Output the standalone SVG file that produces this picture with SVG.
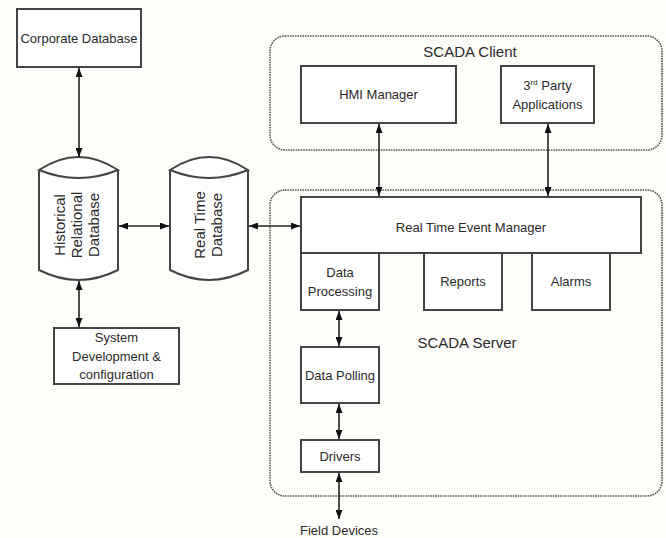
<svg xmlns="http://www.w3.org/2000/svg" width="666" height="538" viewBox="0 0 666 538">
<style>
text{font-family:"Liberation Sans",Arial,sans-serif;font-size:13px;fill:#2a2a2a;text-anchor:middle}
.t15{font-size:15px}
.box{fill:#fff;stroke:#444;stroke-width:2}
.grp{fill:none;stroke:#555;stroke-width:1.6;stroke-dasharray:1.6 0.9}
.cyl{fill:#fff;stroke:#444;stroke-width:2}
.con{fill:none;stroke:#222;stroke-width:1.6;marker-start:url(#ah);marker-end:url(#ah)}
</style>
<defs>
<marker id="ah" viewBox="0 0 10 10" refX="10" refY="5" markerWidth="9" markerHeight="7" orient="auto-start-reverse" markerUnits="userSpaceOnUse" preserveAspectRatio="none">
<path d="M0,0 L10,5 L0,10 Z" fill="#111"/>
</marker>
</defs>
<rect width="666" height="538" fill="#fdfdf9"/>

<g id="scada-client">
<rect class="grp" x="270" y="36" width="392" height="114" rx="15"/>
<text class="t15" x="470" y="57">SCADA Client</text>
</g>
<g id="scada-server">
<rect class="grp" x="270" y="190" width="392" height="306" rx="15"/>
<text class="t15" x="467" y="348">SCADA Server</text>
</g>

<g id="corporate-db">
<rect class="box" x="17" y="9" width="124" height="58"/>
<text x="79" y="43">Corporate Database</text>
</g>

<g id="historical-db">
<path class="cyl" d="M39,170 L39,270 Q78.5,290 118,270 L118,170"/>
<path class="cyl" d="M39,170 Q78.5,144 118,170 Q78.5,186 39,170 Z"/>
<text class="t15" transform="translate(65,225) rotate(-90)">Historical</text>
<text class="t15" transform="translate(82,225) rotate(-90)">Relational</text>
<text class="t15" transform="translate(98.5,225) rotate(-90)">Database</text>
</g>

<g id="realtime-db">
<path class="cyl" d="M170,170 L170,270 Q209,290 248,270 L248,170"/>
<path class="cyl" d="M170,170 Q209,144 248,170 Q209,186 170,170 Z"/>
<text class="t15" transform="translate(205,225) rotate(-90)">Real Time</text>
<text class="t15" transform="translate(222,225) rotate(-90)">Database</text>
</g>

<g id="system-dev">
<rect class="box" x="54" y="328" width="125" height="56"/>
<text x="116.5" y="342">System</text>
<text x="116.5" y="361">Development &amp;</text>
<text x="116.5" y="379">configuration</text>
</g>

<g id="hmi-manager">
<rect class="box" x="301" y="66" width="155" height="57"/>
<text x="378.5" y="99">HMI Manager</text>
</g>

<g id="third-party">
<rect class="box" x="501" y="66" width="93" height="57"/>
<text x="547.5" y="90">3<tspan font-size="8" dy="-5">rd</tspan><tspan dy="5"> Party</tspan></text>
<text x="547.5" y="109">Applications</text>
</g>

<g id="rtem">
<rect class="box" x="301" y="197" width="340" height="56"/>
<text x="471" y="232">Real Time Event Manager</text>
</g>

<g id="data-processing">
<rect class="box" x="301" y="253" width="78" height="57"/>
<text x="340" y="277">Data</text>
<text x="340" y="296">Processing</text>
</g>

<g id="reports">
<rect class="box" x="424" y="253" width="78" height="57"/>
<text x="463" y="286">Reports</text>
</g>

<g id="alarms">
<rect class="box" x="532" y="253" width="78" height="57"/>
<text x="571" y="286">Alarms</text>
</g>

<g id="data-polling">
<rect class="box" x="301" y="347" width="78" height="56"/>
<text x="340" y="380">Data Polling</text>
</g>

<g id="drivers">
<rect class="box" x="301" y="440" width="78" height="32"/>
<text x="340" y="461">Drivers</text>
</g>

<g id="field-devices">
<text x="339" y="535">Field Devices</text>
</g>

<g id="connectors">
<line class="con" x1="79" y1="68" x2="79" y2="157"/>
<line class="con" x1="119" y1="226" x2="169" y2="226"/>
<line class="con" x1="249" y1="226" x2="300" y2="226"/>
<line class="con" x1="379" y1="124" x2="379" y2="196"/>
<line class="con" x1="548" y1="124" x2="548" y2="196"/>
<line class="con" x1="79" y1="281" x2="79" y2="327"/>
<line class="con" x1="339" y1="311" x2="339" y2="346"/>
<line class="con" x1="339" y1="404" x2="339" y2="439"/>
<line class="con" x1="339" y1="473" x2="339" y2="519"/>
</g>
</svg>
